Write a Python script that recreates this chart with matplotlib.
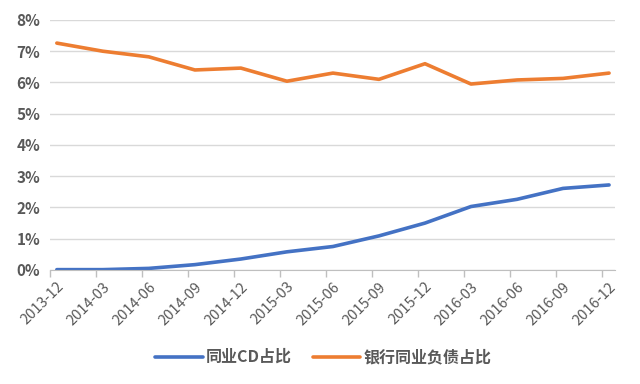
import matplotlib
matplotlib.use("Agg")
import matplotlib.pyplot as plt
from matplotlib.ticker import PercentFormatter

plt.rcParams['font.family'] = ['Noto Sans CJK SC', 'DejaVu Sans']

# 季度
quarters = ['2013-12', '2014-03', '2014-06', '2014-09', '2014-12', '2015-03', '2015-06',
            '2015-09', '2015-12', '2016-03', '2016-06', '2016-09', '2016-12']
# 同业CD占比 (%)
cd_share = [0.01, 0.01, 0.05, 0.17, 0.35, 0.58, 0.75, 1.09, 1.50, 2.03, 2.26, 2.61, 2.72]
# 银行同业负债占比 (%)
interbank_share = [7.26, 7.00, 6.82, 6.40, 6.46, 6.04, 6.30, 6.10, 6.60, 5.95, 6.08, 6.13, 6.30]

grey_text = '#595959'
x = list(range(len(quarters)))

fig = plt.figure(figsize=(6.4, 3.84), dpi=100)
ax = fig.add_axes([0.078, 0.297, 0.883, 0.651])

ax.plot(x, cd_share, color='#4472C4', linewidth=2.6, label='同业CD占比', solid_capstyle='round')
ax.plot(x, interbank_share, color='#ED7D31', linewidth=2.6, label='银行同业负债占比', solid_capstyle='round')

ax.set_ylim(0, 8)
ax.set_xlim(-0.15, 12.13)
ax.set_yticks(range(0, 9))
ax.yaxis.set_major_formatter(PercentFormatter(decimals=0))
ax.grid(axis='y', color='#D9D9D9', linewidth=1)
ax.set_axisbelow(True)

ax.set_xticks(x)
ax.set_xticklabels(quarters, rotation=45, ha='right', rotation_mode='anchor')
ax.set_xticks([i - 0.15 for i in x], minor=True)
ax.tick_params(axis='x', which='major', length=0, pad=7, labelsize=10.5, colors=grey_text)
ax.tick_params(axis='x', which='minor', length=5, color='#BFBFBF', width=1)
ax.tick_params(axis='y', length=0, labelsize=11, colors=grey_text, pad=7)
for lbl in ax.get_yticklabels():
    lbl.set_fontweight('bold')

for side in ['top', 'right', 'left']:
    ax.spines[side].set_visible(False)
ax.spines['bottom'].set_color('#BFBFBF')

leg = fig.legend(loc='center', bbox_to_anchor=(0.505, 0.07), ncol=2, frameon=False,
                 handlelength=3.0, columnspacing=1.3, handletextpad=0.2,
                 prop={'size': 11.5, 'weight': 'bold'})
for t in leg.get_texts():
    t.set_color(grey_text)

fig.savefig('out.png', dpi=100)
